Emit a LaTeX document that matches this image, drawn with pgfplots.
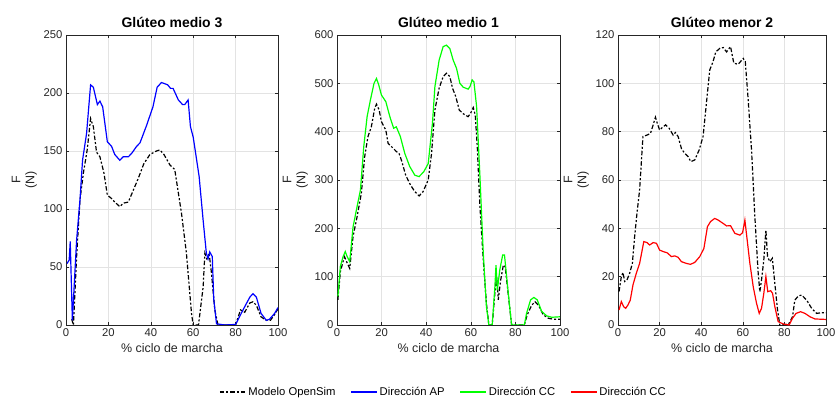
\documentclass[border=0pt]{standalone}
\usepackage{pgfplots}
\pgfplotsset{compat=1.18}
\usepackage{fontspec}
\setmainfont{Liberation Sans}
\definecolor{axc}{RGB}{38,38,38}
\pgfplotsset{
 myax/.style={
  scale only axis, height=290bp, anchor=south west,
  xmin=0,xmax=100, xtick={0,20,...,100}, ymin=0,
  grid=major, grid style={color=gray!22, line width=0.5pt},
  axis line style={axc, line width=0.6pt},
  tick style={axc, line width=0.5pt}, major tick length=3bp,
  tick align=inside,
  ticklabel style={font=\fontsize{11.3}{13}\selectfont, color=axc},
  /pgf/number format/assume math mode=true,
  xlabel={\% ciclo de marcha},
  ylabel={F\\(N)},
  label style={font=\fontsize{12.5}{14}\selectfont, color=axc},
  ylabel style={align=center},
  title style={font=\bfseries\fontsize{14}{16}\selectfont, yshift=-2bp},
  legend image code/.code={\draw[#1] (0bp,0bp) -- (26bp,0bp);},
 },
 bk/.style={black, line width=1.2pt, dash pattern=on 4.5bp off 2bp on 2bp off 2bp},
 bl/.style={blue, line width=1.2pt, solid},
 gr/.style={green, line width=1.2pt, solid},
 rd/.style={red, line width=1.2pt, solid},
}
\begin{document}
\begin{tikzpicture}
\path[use as bounding box] (0,0) rectangle (835bp,400bp);
\begin{axis}[myax, at={(66bp,75bp)}, width=212bp, ymax=250, ytick={0,50,...,250},
  title={Glúteo medio 3}]
\addplot[bk] coordinates {(2.7,5)(3.5,0)(5,59)(6.6,108)(8.2,131)(10,151)(11.6,178)(12.9,171)(14.4,149)(16,145)(17.9,131)(19.5,112)(21.5,109)(23,106)(25.4,102)(27,105)(29.4,106)(31.7,116)(34,126)(36.7,139)(39.6,147)(42.7,150)(44.3,151)(46.2,147)(49,138)(51.3,134)(54.5,96)(56.8,62)(59.2,10)(60,0)(62.5,0)(64.7,33)(65.5,62)(66.6,56)(67.5,62)(68.6,45)(70.2,13)(71.7,0)(80,0)(80.7,4)(82.3,13)(84.3,11)(86.7,19)(88.2,20)(89.8,17)(92,7)(94.5,4)(96.4,4)(98.4,9)(100,14)};
\addplot[bl] coordinates {(0.5,53)(1.5,56)(2,72)(3,4)(5,73)(6.6,108)(7.8,142)(9.7,165)(11.6,207)(12.9,205)(14.8,190)(16,193)(17.3,188)(19.5,158)(21.5,154)(23,147)(25.4,142)(27,145)(29.4,145)(31,148)(33.3,154)(34.9,157)(38,172)(41,188)(43,205)(45,209)(46.6,208)(48,207)(49.3,204)(50.5,204)(53,194)(55,190)(56,190)(57.6,194)(58.7,171)(60,162)(62.8,128)(64.7,90)(66.2,62)(67,57)(67.8,63)(69,59)(69.7,22)(71,1)(75,0)(80,0.5)(83.5,13)(86.7,24)(88.2,27)(89.8,24)(92,10)(94.5,4)(96,5)(98.4,10)(100,15)};
\end{axis}
\begin{axis}[myax, at={(337bp,75bp)}, width=223bp, ymax=600, ytick={0,100,...,600},
  title={Glúteo medio 1}]
\addplot[bk] coordinates {(0.4,52)(1.5,110)(2.7,131)(3.4,141)(4.6,128)(5.7,117)(7.2,183)(9,224)(10.9,272)(12.4,348)(13.9,390)(15.4,410)(16.9,448)(17.7,457)(18.9,445)(19.9,421)(21.9,403)(22.9,376)(25.1,366)(26.6,359)(27.8,355)(28.9,341)(30.8,310)(32.9,290)(34.9,276)(36.8,267)(38.6,276)(40.9,300)(42.4,355)(43.9,445)(45.8,490)(47.6,514)(49.1,521)(50.6,514)(51.8,490)(53.3,472)(54.8,445)(56.6,437)(58.8,431)(59.9,438)(61.1,450)(62,434)(62.9,369)(64.1,245)(65.6,134)(67,45)(68.1,0)(69.6,0)(70.8,66)(71.6,100)(72.3,52)(73.4,93)(74.6,124)(75.4,121)(76.9,59)(78.3,0)(84,0)(85.3,21)(87.3,41)(88.8,48)(90.3,41)(92.5,21)(94.8,14)(97,12)(100,12)};
\addplot[gr] coordinates {(0.4,59)(1.5,121)(2.7,141)(3.7,152)(4.6,141)(5.7,131)(7.2,203)(9,245)(10.5,279)(12,369)(13.5,431)(15,466)(16.6,500)(17.7,510)(18.7,497)(19.9,476)(21.9,462)(23.7,431)(25.4,407)(26.6,410)(28.4,390)(30.4,355)(32.6,328)(34.9,310)(36.8,307)(38.9,317)(40.9,334)(42.8,417)(43.9,493)(45.8,548)(47.6,576)(49.1,579)(50.6,572)(52.1,548)(53.6,531)(55.1,500)(56.6,492)(58.8,488)(59.6,493)(60.6,507)(61.4,503)(62.6,452)(64.1,307)(65.6,148)(67,38)(68.1,0)(69.6,0)(70.8,79)(71.3,124)(71.9,72)(73,114)(74.3,145)(75.1,145)(76.8,66)(78.3,0)(84,0)(85,24)(86.8,52)(88.3,57)(89.8,52)(91.8,28)(94,19)(96.3,16)(100,17)};
\end{axis}
\begin{axis}[myax, at={(618bp,75bp)}, width=208bp, ymax=120, ytick={0,20,...,120},
  title={Glúteo menor 2},
  legend style={at={(-0.839,-0.231)}, anchor=center, draw=none, fill=none,
    legend columns=4, font=\fontsize{11.3}{13}\selectfont,
    /tikz/every even column/.append style={column sep=13bp}},
  legend cell align=left]
\addplot[bk] coordinates {(0.5,13.8)(1.6,20)(2.4,21.7)(3.2,18)(4.3,18.6)(5.6,21.4)(6.9,25.5)(8,36.6)(9.1,46)(10.4,56)(12,78)(14,78.6)(15.6,79.3)(16.9,82.8)(18,86)(18.9,83.4)(20,80.7)(21.7,82)(22.9,82.8)(24.6,81.4)(26.5,78.6)(27.6,79.6)(28.9,78)(30.5,73)(32.1,71)(33.7,69.7)(35,67.6)(36.9,68.3)(39,72.4)(40.9,78)(42.5,91.7)(44.1,105.5)(45.7,109)(47,113)(49,114.5)(50.6,114.8)(52.2,113)(54.1,115.2)(55.7,108.3)(57.8,107.9)(60.2,110.3)(61.2,109)(62.6,93)(64.2,72.4)(65.8,44.8)(67.4,21.4)(68.2,13.8)(69,18.6)(70.1,26.9)(71.1,39.3)(71.9,28.3)(73,26.2)(74.2,27.6)(75.4,17.2)(76.7,6.2)(77.8,0)(82,0.3)(83.9,3.4)(85,10.3)(86.7,12)(88.3,12.4)(90.7,10.3)(93.1,6.9)(95.5,4.8)(97.9,5.1)(100,5.1)};
\addlegendentry{Modelo OpenSim}
\addlegendimage{bl}
\addlegendentry{Dirección AP}
\addlegendimage{gr}
\addlegendentry{Dirección CC}
\addplot[rd] coordinates {(0.5,6.2)(1.6,9.7)(2.7,7.6)(3.7,6.9)(4.8,8.3)(5.9,10.3)(7.2,16.6)(8.8,21.4)(10.4,25.5)(12.4,34.5)(14,34.1)(15.2,33.1)(16.9,34.1)(18.5,33.8)(20,31)(22,30.3)(23.6,29.9)(25.7,28.3)(27.3,28.6)(28.9,28)(30.5,26.2)(32.9,25.5)(34.8,25.1)(36.9,25.9)(39.3,28.3)(41.3,31.7)(43,40.7)(44.5,42.8)(46.5,44.1)(48.2,43.4)(50.6,42)(52.2,41)(54.1,41.1)(56.2,37.9)(58.6,37.2)(59.9,38.2)(61,43.4)(62.1,35.2)(63.4,25.5)(65,15.9)(66.6,9)(67.9,4.8)(69,6.9)(70.1,13.1)(71.1,20)(72,13.8)(73.4,14.2)(74.3,13.1)(75.4,7.6)(77,1.4)(79.5,0.4)(82.3,0)(83.9,2.8)(85.6,4.8)(87.8,5.5)(89.9,4.8)(92.3,3.4)(94.7,2.5)(100,2.3)};
\addlegendentry{Dirección CC}
\end{axis}
\end{tikzpicture}
\end{document}
